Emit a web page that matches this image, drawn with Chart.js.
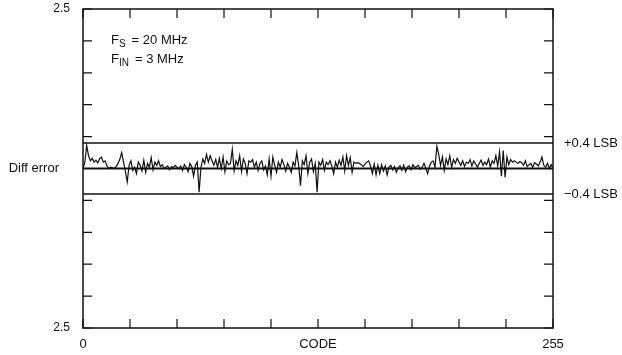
<!DOCTYPE html>
<html>
<head>
<meta charset="utf-8">
<script src="https://cdn.jsdelivr.net/npm/chart.js@4/dist/chart.umd.min.js"></script>
<style>
  html, body { margin: 0; padding: 0; background: #fff; }
  #wrap { width: 622px; height: 355px; }
</style>
</head>
<body>
<div id="wrap"><canvas id="dnlChart" width="622" height="355"></canvas></div>
<script>
// codes 0..255 along the x axis
const codes = Array.from({ length: 256 }, (_, i) => i);

// differential error (LSB), 16 codes per line
const diffError = [
  0.00, 0.10, 0.36, 0.20, 0.12, 0.16, 0.10, 0.13, 0.09, 0.15, 0.18, 0.10, 0.12, 0.04, 0.00, 0.02,
  0.01, 0.00, 0.03, 0.08, 0.15, 0.25, 0.10, -0.05, -0.21, 0.05, 0.12, -0.03, 0.02, -0.08, 0.10, 0.05,
  -0.04, 0.13, -0.06, 0.08, 0.02, 0.17, -0.02, 0.10, 0.05, 0.12, 0.03, 0.06, 0.00, 0.02, 0.04, -0.02,
  0.03, 0.01, 0.05, 0.02, 0.00, 0.04, -0.03, 0.06, 0.02, -0.05, 0.08, 0.03, -0.12, 0.05, 0.10, -0.37,
  0.02, 0.15, 0.08, 0.22, 0.10, 0.20, 0.12, 0.05, 0.14, 0.02, 0.16, 0.00, 0.18, -0.05, 0.12, 0.06,
  0.08, 0.30, -0.04, 0.12, 0.05, 0.20, -0.05, 0.15, 0.08, -0.08, 0.12, 0.10, 0.14, 0.02, 0.10, -0.03,
  0.08, 0.12, -0.02, 0.04, -0.10, 0.15, -0.12, 0.18, 0.05, -0.06, 0.10, 0.02, 0.14, 0.06, -0.04, 0.08,
  0.02, -0.06, 0.10, 0.04, 0.25, 0.05, -0.27, 0.12, 0.06, 0.20, -0.08, 0.10, 0.15, -0.05, 0.08, -0.37,
  0.10, 0.05, 0.14, -0.03, 0.10, 0.06, 0.12, 0.04, -0.08, 0.10, 0.02, 0.13, 0.05, 0.18, -0.04, 0.20,
  0.05, 0.17, -0.06, 0.10, 0.08, 0.09, 0.08, 0.06, 0.03, 0.07, 0.10, 0.12, 0.04, -0.08, 0.07, -0.10,
  0.05, -0.08, 0.06, -0.04, 0.04, -0.10, 0.02, 0.05, -0.02, 0.03, -0.06, 0.01, 0.04, -0.03, 0.05, -0.05,
  0.02, 0.04, -0.02, 0.06, 0.01, 0.03, 0.05, -0.01, 0.02, 0.08, 0.00, -0.08, 0.04, 0.10, 0.12, 0.02,
  0.35, 0.22, 0.05, 0.18, -0.03, 0.15, 0.06, 0.20, 0.02, 0.14, 0.08, 0.16, 0.10, 0.05, 0.12, 0.03,
  0.10, 0.08, 0.14, 0.04, 0.12, 0.07, 0.02, 0.08, 0.13, 0.05, 0.10, 0.06, 0.15, 0.02, 0.12, 0.08,
  0.20, 0.04, 0.26, -0.12, 0.28, -0.14, 0.18, 0.06, 0.14, 0.10, 0.12, 0.10, 0.08, 0.11, 0.09, 0.05,
  0.12, 0.03, 0.06, 0.08, 0.02, 0.09, 0.07, 0.04, 0.10, 0.18, 0.05, 0.02, 0.08, 0.00, 0.06, 0.00
];

// reference lines and axis settings
const limitLines = [0.4, -0.4];
const limitLabels = ["+0.4 LSB", "\u22120.4 LSB"];
const yRange = [-2.5, 2.5];
const yStep = 0.5;
const xRange = [0, 255];
const xStep = 25.5;
const xLabels = { 0: "0", 127.5: "CODE", 255: "255" };
const notes = [
  ["F", "S", "= 20 MHz"],
  ["F", "IN", "= 3 MHz"]
];

const FONT = "'Liberation Sans', Arial, Helvetica, sans-serif";

function hline(y) {
  return [{ x: xRange[0], y: y }, { x: xRange[1], y: y }];
}

function noPad(s) {
  s.paddingTop = 0;
  s.paddingBottom = 0;
  s.paddingLeft = 0;
  s.paddingRight = 0;
}

const framePlugin = {
  id: "frame",
  beforeDraw(chart) {
    const ctx = chart.ctx;
    ctx.save();
    ctx.fillStyle = "#fff";
    ctx.fillRect(0, 0, chart.width, chart.height);
    ctx.restore();
  },
  afterDraw(chart) {
    const { ctx, chartArea: a, scales } = chart;
    ctx.save();
    ctx.strokeStyle = "#111";
    ctx.lineWidth = 1.5;
    ctx.strokeRect(a.left, a.top, a.right - a.left, a.bottom - a.top);

    // inward tick marks on all four sides
    ctx.lineWidth = 1.2;
    ctx.beginPath();
    scales.y.ticks.forEach(t => {
      const py = scales.y.getPixelForValue(t.value);
      ctx.moveTo(a.left, py); ctx.lineTo(a.left + 9, py);
      ctx.moveTo(a.right, py); ctx.lineTo(a.right - 9, py);
    });
    scales.x.ticks.forEach(t => {
      const px = scales.x.getPixelForValue(t.value);
      ctx.moveTo(px, a.top); ctx.lineTo(px, a.top + 9);
      ctx.moveTo(px, a.bottom); ctx.lineTo(px, a.bottom - 9);
    });
    ctx.stroke();

    // left label
    ctx.fillStyle = "#111";
    ctx.font = "13px " + FONT;
    ctx.textAlign = "right";
    ctx.textBaseline = "middle";
    ctx.fillText("Diff error", 59, scales.y.getPixelForValue(0));

    // test condition notes
    ctx.textAlign = "left";
    ctx.textBaseline = "alphabetic";
    notes.forEach((n, i) => {
      const base = 44 + i * 19;
      let x = 111;
      ctx.font = "13px " + FONT;
      ctx.fillText(n[0], x, base);
      x += ctx.measureText(n[0]).width;
      ctx.font = "10px " + FONT;
      ctx.fillText(n[1], x, base + 3);
      x += ctx.measureText(n[1]).width + 6;
      ctx.font = "13px " + FONT;
      ctx.fillText(n[2], x, base);
    });
    ctx.restore();
  }
};

new Chart(document.getElementById("dnlChart"), {
  type: "line",
  data: {
    datasets: [
      {
        data: codes.map((c, i) => ({ x: c, y: diffError[i] })),
        borderColor: "#111",
        borderWidth: 1.2,
        pointRadius: 0,
        tension: 0
      },
      {
        data: hline(0),
        borderColor: "#111",
        borderWidth: 2,
        pointRadius: 0
      },
      {
        data: hline(limitLines[0]),
        borderColor: "#111",
        borderWidth: 1.5,
        pointRadius: 0
      },
      {
        data: hline(limitLines[1]),
        borderColor: "#111",
        borderWidth: 1.5,
        pointRadius: 0
      }
    ]
  },
  options: {
    responsive: false,
    animation: false,
    layout: { padding: { top: 9, right: 0, left: 0, bottom: 0 } },
    plugins: {
      legend: { display: false },
      tooltip: { enabled: false }
    },
    scales: {
      x: {
        type: "linear",
        min: xRange[0],
        max: xRange[1],
        afterFit: s => { s.height = 27; noPad(s); },
        border: { display: false },
        grid: { display: false, drawTicks: false },
        ticks: {
          stepSize: xStep,
          autoSkip: false,
          maxRotation: 0,
          padding: 9,
          color: "#111",
          font: { family: FONT, size: 13 },
          callback: v => xLabels[v] !== undefined ? xLabels[v] : ""
        }
      },
      y: {
        min: yRange[0],
        max: yRange[1],
        afterFit: s => { s.width = 83; noPad(s); },
        border: { display: false },
        grid: { display: false, drawTicks: false },
        ticks: {
          stepSize: yStep,
          padding: 13,
          color: "#111",
          font: { family: FONT, size: 12 },
          callback: v => Math.abs(Math.abs(v) - 2.5) < 1e-6 ? "2.5" : ""
        }
      },
      y2: {
        position: "right",
        min: yRange[0],
        max: yRange[1],
        afterFit: s => { s.width = 69; noPad(s); },
        afterBuildTicks: s => { s.ticks = limitLines.map(v => ({ value: v })); },
        border: { display: false },
        grid: { display: false, drawTicks: false },
        ticks: {
          padding: 11,
          color: "#111",
          font: { family: FONT, size: 13 },
          callback: v => v > 0 ? limitLabels[0] : limitLabels[1]
        }
      }
    }
  },
  plugins: [framePlugin]
});
</script>
</body>
</html>
